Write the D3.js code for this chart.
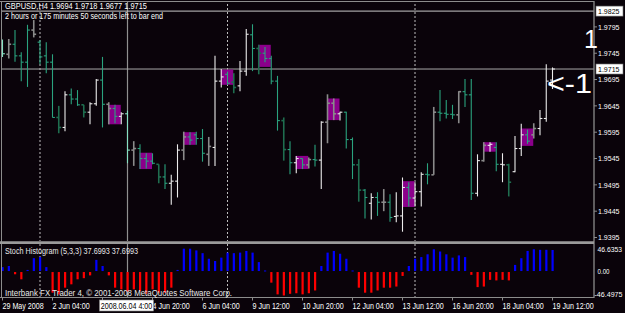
<!DOCTYPE html>
<html>
<head>
<meta charset="utf-8">
<title>GBPUSD,H4</title>
<script src="https://d3js.org/d3.v7.min.js"></script>
<style>
  body { margin: 0; background: #0a030a; }
  svg { display: block; }
  text { font-family: "Liberation Sans", Arial, sans-serif; }
</style>
</head>
<body>
<svg id="chart"></svg>
<script>
// ---- data (H4 bars, 29 May 20:00 .. 19 Jun 12:00) ----
const tickLabels = ["29 May 2008", "2 Jun 04:00", "3 Jun 12:00", "4 Jun 20:00", "6 Jun 04:00",
  "9 Jun 12:00", "10 Jun 20:00", "12 Jun 04:00", "13 Jun 12:00", "16 Jun 20:00",
  "18 Jun 04:00", "19 Jun 12:00"];
const tickEvery = 8;              // one time label every 8 bars
const weekEnds = [6, 36, 66];     // last bar of each week (friday 20:00)
const markedBar = 20;             // 2008.06.04 4:00
const markedLabel = "2008.06.04 4:00";

const opens = [1.9760,1.9743,1.9762,1.9740,1.9728,1.9789,1.9766,1.9740,1.9728,1.9623,
  1.9604,1.9666,1.9658,1.9647,1.9633,1.9649,1.9694,1.9648,1.9640,1.9625,
  1.9630,1.9561,1.9564,1.9545,1.9540,1.9534,1.9510,1.9498,1.9502,1.9561,
  1.9586,1.9590,1.9583,1.9553,1.9566,1.9692,1.9705,1.9690,1.9683,1.9711,
  1.9780,1.9754,1.9745,1.9735,1.9692,1.9617,1.9562,1.9537,1.9545,1.9533,
  1.9543,1.9542,1.9614,1.9650,1.9630,1.9633,1.9581,1.9533,1.9485,1.9460,
  1.9471,1.9462,1.9462,1.9435,1.9436,1.9490,1.9470,1.9482,1.9515,1.9514,
  1.9633,1.9631,1.9629,1.9628,1.9672,1.9666,1.9479,1.9541,1.9570,1.9566,
  1.9534,1.9533,1.9520,1.9564,1.9590,1.9590,1.9602,1.9621,1.9694];
const highs = [1.9771,1.9772,1.9789,1.9747,1.9799,1.9808,1.9770,1.9766,1.9743,1.9645,
  1.9673,1.9678,1.9675,1.9647,1.9652,1.9696,1.9738,1.9652,1.9647,1.9633,
  1.9636,1.9578,1.9572,1.9555,1.9555,1.9534,1.9534,1.9514,1.9572,1.9596,
  1.9595,1.9596,1.9601,1.9586,1.9740,1.9715,1.9710,1.9707,1.9730,1.9791,
  1.9800,1.9761,1.9757,1.9740,1.9702,1.9623,1.9578,1.9550,1.9545,1.9547,
  1.9571,1.9616,1.9667,1.9659,1.9634,1.9634,1.9585,1.9544,1.9487,1.9479,
  1.9481,1.9487,1.9477,1.9481,1.9509,1.9500,1.9500,1.9519,1.9536,1.9643,
  1.9675,1.9656,1.9647,1.9673,1.9696,1.9696,1.9553,1.9576,1.9576,1.9576,
  1.9555,1.9535,1.9588,1.9611,1.9600,1.9612,1.9637,1.9724,1.9718];
const lows = [1.9738,1.9735,1.9729,1.9692,1.9681,1.9775,1.9724,1.9707,1.9623,1.9593,
  1.9597,1.9648,1.9645,1.9623,1.9610,1.9645,1.9604,1.9610,1.9612,1.9610,
  1.9536,1.9531,1.9525,1.9526,1.9534,1.9498,1.9487,1.9457,1.9471,1.9542,
  1.9571,1.9571,1.9539,1.9531,1.9531,1.9680,1.9685,1.9669,1.9673,1.9702,
  1.9711,1.9705,1.9728,1.9686,1.9598,1.9541,1.9515,1.9517,1.9525,1.9526,
  1.9530,1.9487,1.9574,1.9618,1.9617,1.9564,1.9506,1.9463,1.9431,1.9429,
  1.9436,1.9445,1.9425,1.9424,1.9406,1.9454,1.9454,1.9454,1.9496,1.9514,
  1.9616,1.9621,1.9620,1.9612,1.9643,1.9466,1.9473,1.9539,1.9558,1.9521,
  1.9500,1.9473,1.9519,1.9550,1.9573,1.9583,1.9589,1.9615,1.9677];
const closes = [1.9744,1.9762,1.9740,1.9728,1.9789,1.9781,1.9738,1.9728,1.9623,1.9604,
  1.9666,1.9658,1.9647,1.9633,1.9649,1.9694,1.9648,1.9640,1.9625,1.9630,
  1.9561,1.9564,1.9545,1.9540,1.9536,1.9510,1.9498,1.9502,1.9561,1.9586,
  1.9580,1.9583,1.9555,1.9568,1.9692,1.9700,1.9688,1.9680,1.9711,1.9781,
  1.9754,1.9745,1.9735,1.9692,1.9617,1.9562,1.9537,1.9545,1.9533,1.9543,
  1.9542,1.9614,1.9650,1.9630,1.9633,1.9581,1.9533,1.9485,1.9471,1.9471,
  1.9462,1.9462,1.9433,1.9436,1.9490,1.9470,1.9482,1.9515,1.9514,1.9633,
  1.9631,1.9629,1.9628,1.9672,1.9666,1.9479,1.9541,1.9570,1.9572,1.9534,
  1.9533,1.9500,1.9564,1.9590,1.9578,1.9602,1.9621,1.9692,1.9715];
// bar colour kind as shown: w white, g grey, t teal, d dark green, m mint
const barKinds = ["m","g","t","t","t","g","t","t","t","d",
  "w","t","t","d","w","w","t","g","t","w",
  "m","g","t","t","t","d","t","w","w","g",
  "t","t","t","g","w","w","t","d","w","w",
  "t","d","t","t","t","d","t","w","t","g",
  "t","w","g","g","w","t","t","d","t","w",
  "t","g","t","w","w","t","w","w","t","g",
  "t","t","t","g","t","t","w","g","w","t",
  "w","d","w","w","t","g","w","w","w"];

// purple marker boxes: first bar, top and bottom price (two bars wide)
const boxStart  = [17, 22, 29, 35, 41, 47, 52, 64, 77, 83];
const boxTop    = [1.9647,1.9556,1.9595,1.9714,1.9761,1.9550,1.9659,1.9502,1.9576,1.9602];
const boxBottom = [1.9610,1.9525,1.9571,1.9685,1.9719,1.9525,1.9618,1.9453,1.9558,1.9569];

// Stoch Histogram (5,3,3)
const stoch = [7,9,-4,-13,2,23,25,7,-37,-40,
  -28,-22,-13,-11,-6,20,9,-6,-28,-31,
  -35,-31,-34,-39,-31,-37,-37,-28,2,40,
  40,37,32,22,18,24,33,32,33,36,
  33,16,1,-19,-40,-42,-39,-38,-40,-38,
  -33,9,33,36,31,22,1,-28,-37,-37,
  -33,-28,-28,-26,-7,9,22,25,30,39,
  35,30,24,28,25,-5,-27,-26,-14,-15,
  -14,-15,11,23,36,39,38,38,37.6993];

const priceTicks = [1.9395,1.9445,1.9495,1.9545,1.9595,1.9645,1.9695,1.9745,1.9795];
const hLinePrice = 1.9825;
const bidPrice = 1.9715;
const stochTicks = [46.6353, 0, -46.4975];

const titleText = "GBPUSD,H4  1.9694 1.9718 1.9677 1.9715";
const timerText = "2 hours or 175 minutes 50 seconds left to bar end";
const indText = "Stoch Histogram (5,3,3) 37.6993 37.6993";
const copyText = "Interbank FX Trader 4, \u00A9 2001-2008 MetaQuotes Software Corp.";

// ---- layout ----
const W = 625, H = 313;
const left = 2, right = 594, mainTop = 2, mainBottom = 241, indTop = 244, indBottom = 297.5;
const colors = { w: "#ececec", g: "#8a8a8a", t: "#2aa37e", d: "#1f6e4f", m: "#86e0c2" };
const frame = "#8c8c8c";

const svg = d3.select("#chart").attr("width", W).attr("height", H);
svg.append("rect").attr("width", W).attr("height", H).attr("fill", "#0a030a");

const n = opens.length;
const x = d3.scaleLinear().domain([0, n - 1]).range([2.5, 2.5 + 6.25 * (n - 1)]);
const y = d3.scaleLinear().domain([1.9395, 1.9825]).range([237.5, 11.1]);
const yi = d3.scaleLinear().domain([-46.4975, 46.6353]).range([297, 245]);

function squeeze(sel, k) {
  sel.each(function () {
    const w = this.getComputedTextLength();
    d3.select(this).attr("textLength", w * k).attr("lengthAdjust", "spacingAndGlyphs");
  });
  return sel;
}

const defs = svg.append("defs");
defs.append("clipPath").attr("id", "clipMain").append("rect")
  .attr("x", left).attr("y", mainTop).attr("width", right - left).attr("height", mainBottom - mainTop);
defs.append("clipPath").attr("id", "clipInd").append("rect")
  .attr("x", left).attr("y", indTop).attr("width", right - left).attr("height", indBottom - indTop);

const main = svg.append("g").attr("clip-path", "url(#clipMain)");
const ind = svg.append("g").attr("clip-path", "url(#clipInd)");

// week separators and the vertical line object, through both windows
[main, ind].forEach(g => {
  g.selectAll(".sep").data(weekEnds).join("line")
    .attr("x1", d => x(d)).attr("x2", d => x(d))
    .attr("y1", 0).attr("y2", H)
    .attr("stroke", "#bdbdbd").attr("stroke-width", 1).attr("stroke-dasharray", "2,2");
  g.append("line")
    .attr("x1", x(markedBar)).attr("x2", x(markedBar)).attr("y1", 0).attr("y2", H)
    .attr("stroke", "#909090").attr("stroke-width", 1.2);
});

// horizontal lines
main.append("line").attr("x1", left).attr("x2", right)
  .attr("y1", y(hLinePrice)).attr("y2", y(hLinePrice))
  .attr("stroke", "#c8c8c8").attr("stroke-width", 1);
main.append("line").attr("x1", left).attr("x2", right)
  .attr("y1", y(bidPrice)).attr("y2", y(bidPrice))
  .attr("stroke", "#a8a8a8").attr("stroke-width", 1);

// marker boxes
main.selectAll(".box").data(boxStart).join("rect")
  .attr("x", d => x(d) - 0.5)
  .attr("width", d => x(d + 2) - x(d))
  .attr("y", (d, i) => y(boxTop[i]))
  .attr("height", (d, i) => y(boxBottom[i]) - y(boxTop[i]))
  .attr("fill", "#8b008b");

// OHLC bars
const idx = d3.range(n);
const bars = main.selectAll(".bar").data(idx).join("g")
  .attr("stroke", i => colors[barKinds[i]])
  .attr("stroke-width", i => (barKinds[i] === "g" || barKinds[i] === "d") ? 1.6 : 1.1);
bars.append("line")
  .attr("x1", i => x(i)).attr("x2", i => x(i))
  .attr("y1", i => y(highs[i])).attr("y2", i => y(lows[i]));
bars.append("line")
  .attr("x1", i => x(i) - 2.4).attr("x2", i => x(i))
  .attr("y1", i => y(opens[i])).attr("y2", i => y(opens[i]));
bars.append("line")
  .attr("x1", i => x(i)).attr("x2", i => x(i) + 2.4)
  .attr("y1", i => y(closes[i])).attr("y2", i => y(closes[i]));

// histogram
ind.selectAll(".hb").data(idx).join("rect")
  .attr("x", i => x(i) - 1)
  .attr("width", 2.2)
  .attr("y", i => stoch[i] >= 0 ? yi(stoch[i]) : yi(0) + 1)
  .attr("height", i => Math.max(1, Math.abs(yi(stoch[i]) - yi(0))))
  .attr("fill", i => stoch[i] >= 0 ? "#0000ff" : "#ff0000");

// frame
svg.append("line").attr("x1", 0).attr("x2", right).attr("y1", 1.5).attr("y2", 1.5).attr("stroke", frame);
svg.append("line").attr("x1", 1.5).attr("x2", 1.5).attr("y1", 1).attr("y2", indBottom).attr("stroke", frame);
svg.append("line").attr("x1", right).attr("x2", right).attr("y1", 1).attr("y2", indBottom + 0.5).attr("stroke", frame).attr("stroke-width", 1.3);
svg.append("line").attr("x1", 0).attr("x2", right).attr("y1", 242.6).attr("y2", 242.6).attr("stroke", "#9a9a9a").attr("stroke-width", 2.6);
svg.append("line").attr("x1", 0).attr("x2", right).attr("y1", indBottom).attr("y2", indBottom).attr("stroke", frame);

// price axis
const pa = svg.append("g");
pa.selectAll("line").data(priceTicks).join("line")
  .attr("x1", right).attr("x2", right + 3).attr("y1", d => y(d)).attr("y2", d => y(d)).attr("stroke", frame);
squeeze(pa.selectAll("text").data(priceTicks).join("text")
  .attr("x", 598).attr("y", d => y(d)).attr("dy", "0.35em")
  .attr("fill", "#ffffff").attr("font-size", 8).text(d => d.toFixed(4)), 0.88);

// boxed price labels
[hLinePrice, bidPrice].forEach(p => {
  svg.append("rect").attr("x", 596).attr("y", y(p) - 5).attr("width", 27).attr("height", 10)
    .attr("fill", "#ffffff").attr("stroke", "#777").attr("stroke-width", 0.6);
  squeeze(svg.append("text").attr("x", 598).attr("y", y(p)).attr("dy", "0.35em")
    .attr("fill", "#000").attr("font-size", 8).text(p.toFixed(4)), 0.88);
});

// indicator axis (max at the window top, min at its bottom)
svg.append("g").selectAll("text").data(stochTicks).join("text")
  .attr("x", d => d < 0 ? 594.5 : 597.5)
  .attr("y", d => Math.min(Math.max(yi(d), 249), 294))
  .attr("dy", "0.35em").attr("fill", "#ffffff").attr("font-size", 8)
  .attr("textLength", d => d === 0 ? 12 : (d < 0 ? 28 : 24.5))
  .attr("lengthAdjust", "spacingAndGlyphs")
  .text(d => d === 0 ? "0.00" : d.toFixed(4));

// time axis; a label whose start is covered by the marked-time box is not drawn
const tickIdx = tickLabels.map((t, k) => k * tickEvery);
const boxL = x(markedBar) - 28, boxR = x(markedBar) + 26;
const shownIdx = tickIdx.filter(d => !(x(d) > boxL && x(d) < boxR - 2));
const ta = svg.append("g");
ta.selectAll("line").data(tickIdx).join("line")
  .attr("x1", d => x(d)).attr("x2", d => x(d)).attr("y1", indBottom).attr("y2", indBottom + 3)
  .attr("stroke", frame);
squeeze(ta.selectAll("text").data(shownIdx).join("text")
  .attr("x", d => x(d)).attr("y", 309)
  .attr("fill", "#ffffff").attr("font-size", 8.2).text(d => tickLabels[d / tickEvery]), 0.87);
svg.append("rect").attr("x", boxL).attr("y", 300).attr("width", boxR - boxL).attr("height", 11)
  .attr("fill", "#ffffff").attr("stroke", "#888").attr("stroke-width", 0.6);
squeeze(svg.append("text").attr("x", (boxL + boxR) / 2).attr("y", 309).attr("text-anchor", "middle")
  .attr("fill", "#000").attr("font-size", 8.2).text(markedLabel), 0.87);

// chart texts
svg.append("text").attr("x", 5).attr("y", 9.3).attr("fill", "#fff").attr("font-size", 8.3)
  .attr("textLength", 142).attr("lengthAdjust", "spacingAndGlyphs").text(titleText);
svg.append("text").attr("x", 5).attr("y", 19).attr("fill", "#fff").attr("font-size", 8.8)
  .attr("textLength", 158).attr("lengthAdjust", "spacingAndGlyphs").text(timerText);
svg.append("text").attr("x", 5).attr("y", 254).attr("fill", "#e8e8e8").attr("font-size", 8.3)
  .attr("textLength", 133).attr("lengthAdjust", "spacingAndGlyphs").text(indText);
svg.append("text").attr("x", 5).attr("y", 296).attr("fill", "#e8e8e8").attr("font-size", 8.3)
  .attr("textLength", 227).attr("lengthAdjust", "spacingAndGlyphs").text(copyText);

// hand-written labels on the chart
svg.append("text").attr("x", 584).attr("y", 48).attr("fill", "#fff").attr("font-size", 25).text("1");
svg.append("text").attr("x", 547).attr("y", 93).attr("fill", "#fff").attr("font-size", 27)
  .attr("textLength", 45).attr("lengthAdjust", "spacingAndGlyphs").text("<-1");
</script>
</body>
</html>
